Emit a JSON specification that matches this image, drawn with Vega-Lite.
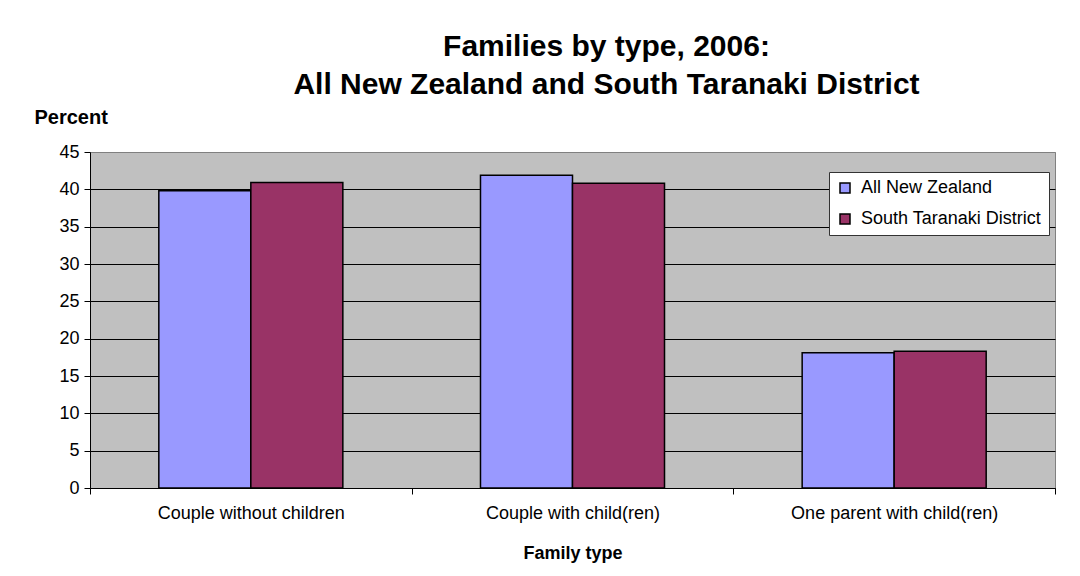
{
  "$schema": "https://vega.github.io/schema/vega-lite/v6.json",
  "autosize": "none",
  "width": 965,
  "height": 336,
  "padding": {"left": 90, "top": 152, "right": 25, "bottom": 88},
  "background": "white",
  "title": {
    "text": ["Families by type, 2006:", "All New Zealand and South Taranaki District"],
    "font": "Liberation Sans",
    "fontSize": 30,
    "fontWeight": "bold",
    "color": "black",
    "lineHeight": 38,
    "anchor": "middle",
    "frame": "group",
    "dx": 34,
    "offset": 7
  },
  "data": {
    "values": [
      {"family_type": "Couple without children", "area": "All New Zealand", "percent": 39.8},
      {"family_type": "Couple without children", "area": "South Taranaki District", "percent": 40.9},
      {"family_type": "Couple with child(ren)", "area": "All New Zealand", "percent": 41.9},
      {"family_type": "Couple with child(ren)", "area": "South Taranaki District", "percent": 40.8},
      {"family_type": "One parent with child(ren)", "area": "All New Zealand", "percent": 18.1},
      {"family_type": "One parent with child(ren)", "area": "South Taranaki District", "percent": 18.3}
    ]
  },
  "mark": {"type": "bar", "stroke": "black", "strokeWidth": 1.5},
  "encoding": {
    "x": {
      "field": "family_type",
      "type": "nominal",
      "sort": ["Couple without children", "Couple with child(ren)", "One parent with child(ren)"],
      "scale": {"paddingInner": 0, "paddingOuter": 0},
      "axis": {
        "title": "Family type",
        "labelAngle": 0,
        "labelLimit": 0,
        "tickBand": "extent",
        "tickSize": 6,
        "labelPadding": 10,
        "titlePadding": 22,
        "grid": false
      }
    },
    "xOffset": {
      "field": "area",
      "type": "nominal",
      "sort": ["All New Zealand", "South Taranaki District"],
      "scale": {"paddingInner": 0, "paddingOuter": 0.748}
    },
    "y": {
      "field": "percent",
      "type": "quantitative",
      "scale": {"domain": [0, 45], "nice": false},
      "axis": {
        "title": "Percent",
        "values": [0, 5, 10, 15, 20, 25, 30, 35, 40, 45],
        "grid": true,
        "gridColor": {"condition": {"test": "datum.value === 45", "value": "#808080"}, "value": "black"},
        "tickSize": 6,
        "labelPadding": 5,
        "titleAngle": 0,
        "titleAlign": "left",
        "titleBaseline": "alphabetic",
        "titleX": -56,
        "titleY": -29,
        "titleFontSize": 20
      }
    },
    "color": {
      "field": "area",
      "type": "nominal",
      "sort": ["All New Zealand", "South Taranaki District"],
      "scale": {"domain": ["All New Zealand", "South Taranaki District"], "range": ["#9999FF", "#993366"]},
      "legend": {
        "title": null,
        "orient": "none",
        "legendX": 739,
        "legendY": 20,
        "symbolType": "square",
        "symbolSize": 100,
        "symbolStrokeColor": "black",
        "symbolStrokeWidth": 1.5,
        "labelFontSize": 18,
        "labelFont": "Liberation Sans",
        "labelColor": "black",
        "labelLimit": 0,
        "labelOffset": 7,
        "rowPadding": 13,
        "padding": 7,
        "fillColor": "white",
        "strokeColor": "#333333"
      }
    }
  },
  "config": {
    "view": {"fill": "#C0C0C0", "stroke": "#808080", "strokeWidth": 1},
    "axis": {
      "labelFont": "Liberation Sans",
      "labelFontSize": 18,
      "labelColor": "black",
      "titleFont": "Liberation Sans",
      "titleFontSize": 18,
      "titleFontWeight": "bold",
      "titleColor": "black",
      "domainColor": "black",
      "domainWidth": 1,
      "tickColor": "black",
      "tickWidth": 1,
      "gridColor": "black",
      "gridWidth": 1,
      "gridOpacity": 1
    }
  }
}
